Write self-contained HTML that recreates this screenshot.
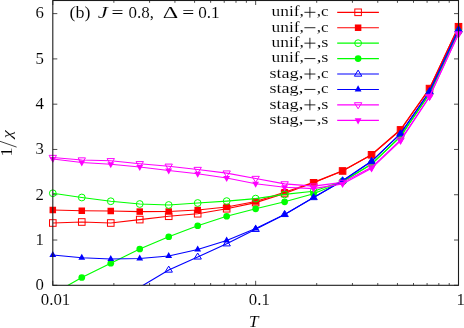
<!DOCTYPE html>
<html><head><meta charset="utf-8"><style>
html,body{margin:0;padding:0;background:#fff;}
body{width:464px;height:328px;overflow:hidden;position:relative;}
.t{font-family:"Liberation Serif",serif;font-size:16px;fill:#000;stroke:#fff;stroke-width:0.08px;}
.l{font-size:15px;}
.d{font-size:16.8px;}
text{filter:grayscale(1);}
</style></head><body>
<svg width="464" height="328" viewBox="0 0 464 328" style="position:absolute;left:0;top:0">
<rect width="464" height="328" fill="#fff"/>
<defs><clipPath id="c"><rect x="52.8" y="0.5" width="405.7" height="284.8"/></clipPath></defs>
<path d="M52.8 285.30h4.5M458.5 285.30h-4.5M52.8 240.02h4.5M458.5 240.02h-4.5M52.8 194.74h4.5M458.5 194.74h-4.5M52.8 149.46h4.5M458.5 149.46h-4.5M52.8 104.18h4.5M458.5 104.18h-4.5M52.8 58.90h4.5M458.5 58.90h-4.5M52.8 13.62h4.5M458.5 13.62h-4.5M52.80 285.3v-4.5M52.80 0.5v4.5M113.86 285.3v-2.3M113.86 0.5v2.3M149.58 285.3v-2.3M149.58 0.5v2.3M174.93 285.3v-2.3M174.93 0.5v2.3M194.59 285.3v-2.3M194.59 0.5v2.3M210.65 285.3v-2.3M210.65 0.5v2.3M224.23 285.3v-2.3M224.23 0.5v2.3M235.99 285.3v-2.3M235.99 0.5v2.3M246.37 285.3v-2.3M246.37 0.5v2.3M255.65 285.3v-4.5M255.65 0.5v4.5M316.71 285.3v-2.3M316.71 0.5v2.3M352.43 285.3v-2.3M352.43 0.5v2.3M377.78 285.3v-2.3M377.78 0.5v2.3M397.44 285.3v-2.3M397.44 0.5v2.3M413.50 285.3v-2.3M413.50 0.5v2.3M427.08 285.3v-2.3M427.08 0.5v2.3M438.84 285.3v-2.3M438.84 0.5v2.3M449.22 285.3v-2.3M449.22 0.5v2.3" stroke="#000" stroke-width="0.7" fill="none"/>
<polyline points="52.8,223 81.78,222 110.76,223 139.74,219.6 168.71,216.25 197.69,213.75 226.67,208.75 255.65,202.6 284.63,193.5 313.61,182.8 342.59,171 371.56,154.8 400.54,130 429.52,88.6 458.5,26.75" fill="none" stroke="#ff0000" stroke-width="1.15" clip-path="url(#c)"/>
<rect x="49.50" y="219.70" width="6.60" height="6.60" fill="none" stroke="#ff0000" stroke-width="1"/>
<rect x="78.48" y="218.70" width="6.60" height="6.60" fill="none" stroke="#ff0000" stroke-width="1"/>
<rect x="107.46" y="219.70" width="6.60" height="6.60" fill="none" stroke="#ff0000" stroke-width="1"/>
<rect x="136.44" y="216.30" width="6.60" height="6.60" fill="none" stroke="#ff0000" stroke-width="1"/>
<rect x="165.41" y="212.95" width="6.60" height="6.60" fill="none" stroke="#ff0000" stroke-width="1"/>
<rect x="194.39" y="210.45" width="6.60" height="6.60" fill="none" stroke="#ff0000" stroke-width="1"/>
<rect x="223.37" y="205.45" width="6.60" height="6.60" fill="none" stroke="#ff0000" stroke-width="1"/>
<rect x="252.35" y="199.30" width="6.60" height="6.60" fill="none" stroke="#ff0000" stroke-width="1"/>
<rect x="281.33" y="190.20" width="6.60" height="6.60" fill="none" stroke="#ff0000" stroke-width="1"/>
<rect x="310.31" y="179.50" width="6.60" height="6.60" fill="none" stroke="#ff0000" stroke-width="1"/>
<rect x="339.29" y="167.70" width="6.60" height="6.60" fill="none" stroke="#ff0000" stroke-width="1"/>
<rect x="368.26" y="151.50" width="6.60" height="6.60" fill="none" stroke="#ff0000" stroke-width="1"/>
<rect x="397.24" y="126.70" width="6.60" height="6.60" fill="none" stroke="#ff0000" stroke-width="1"/>
<rect x="426.22" y="85.30" width="6.60" height="6.60" fill="none" stroke="#ff0000" stroke-width="1"/>
<rect x="455.20" y="23.45" width="6.60" height="6.60" fill="none" stroke="#ff0000" stroke-width="1"/>
<path d="M337.2 12.30H378.9" stroke="#ff0000" stroke-width="1.15"/>
<rect x="354.80" y="9.00" width="6.60" height="6.60" fill="none" stroke="#ff0000" stroke-width="1"/>
<text x="271.5" y="16.10" textLength="32.4" lengthAdjust="spacingAndGlyphs" class="t l">unif,</text>
<path d="M304.4 12.30H315.4M309.9 6.95V17.65" stroke="#000" stroke-width="0.85" fill="none"/>
<text x="316.7" y="16.10" textLength="11.8" lengthAdjust="spacingAndGlyphs" class="t l">,c</text>
<polyline points="52.8,210 81.78,210.75 110.76,211 139.74,211.6 168.71,211.5 197.69,210 226.67,207 255.65,201.5 284.63,192.2 313.61,182.4 342.59,170.8 371.56,154.7 400.54,129.5 429.52,88.6 458.5,26.75" fill="none" stroke="#ff0000" stroke-width="1.15" clip-path="url(#c)"/>
<rect x="49.55" y="206.75" width="6.50" height="6.50" fill="#ff0000"/>
<rect x="78.53" y="207.50" width="6.50" height="6.50" fill="#ff0000"/>
<rect x="107.51" y="207.75" width="6.50" height="6.50" fill="#ff0000"/>
<rect x="136.49" y="208.35" width="6.50" height="6.50" fill="#ff0000"/>
<rect x="165.46" y="208.25" width="6.50" height="6.50" fill="#ff0000"/>
<rect x="194.44" y="206.75" width="6.50" height="6.50" fill="#ff0000"/>
<rect x="223.42" y="203.75" width="6.50" height="6.50" fill="#ff0000"/>
<rect x="252.40" y="198.25" width="6.50" height="6.50" fill="#ff0000"/>
<rect x="281.38" y="188.95" width="6.50" height="6.50" fill="#ff0000"/>
<rect x="310.36" y="179.15" width="6.50" height="6.50" fill="#ff0000"/>
<rect x="339.34" y="167.55" width="6.50" height="6.50" fill="#ff0000"/>
<rect x="368.31" y="151.45" width="6.50" height="6.50" fill="#ff0000"/>
<rect x="397.29" y="126.25" width="6.50" height="6.50" fill="#ff0000"/>
<rect x="426.27" y="85.35" width="6.50" height="6.50" fill="#ff0000"/>
<rect x="455.25" y="23.50" width="6.50" height="6.50" fill="#ff0000"/>
<path d="M337.2 27.73H378.9" stroke="#ff0000" stroke-width="1.15"/>
<rect x="354.85" y="24.48" width="6.50" height="6.50" fill="#ff0000"/>
<text x="271.5" y="31.53" textLength="32.4" lengthAdjust="spacingAndGlyphs" class="t l">unif,</text>
<path d="M304.4 27.73H315.4" stroke="#000" stroke-width="0.85" fill="none"/>
<text x="316.7" y="31.53" textLength="11.8" lengthAdjust="spacingAndGlyphs" class="t l">,c</text>
<polyline points="52.8,193.25 81.78,197.5 110.76,201.25 139.74,204 168.71,205 197.69,203 226.67,201.1 255.65,198.6 284.63,194.4 313.61,191.3 342.59,181.4 371.56,164 400.54,136.3 429.52,93.6 458.5,31.6" fill="none" stroke="#00ff00" stroke-width="1.15" clip-path="url(#c)"/>
<circle cx="52.80" cy="193.25" r="3.4" fill="none" stroke="#00ff00" stroke-width="1"/>
<circle cx="81.78" cy="197.50" r="3.4" fill="none" stroke="#00ff00" stroke-width="1"/>
<circle cx="110.76" cy="201.25" r="3.4" fill="none" stroke="#00ff00" stroke-width="1"/>
<circle cx="139.74" cy="204.00" r="3.4" fill="none" stroke="#00ff00" stroke-width="1"/>
<circle cx="168.71" cy="205.00" r="3.4" fill="none" stroke="#00ff00" stroke-width="1"/>
<circle cx="197.69" cy="203.00" r="3.4" fill="none" stroke="#00ff00" stroke-width="1"/>
<circle cx="226.67" cy="201.10" r="3.4" fill="none" stroke="#00ff00" stroke-width="1"/>
<circle cx="255.65" cy="198.60" r="3.4" fill="none" stroke="#00ff00" stroke-width="1"/>
<circle cx="284.63" cy="194.40" r="3.4" fill="none" stroke="#00ff00" stroke-width="1"/>
<circle cx="313.61" cy="191.30" r="3.4" fill="none" stroke="#00ff00" stroke-width="1"/>
<circle cx="342.59" cy="181.40" r="3.4" fill="none" stroke="#00ff00" stroke-width="1"/>
<circle cx="371.56" cy="164.00" r="3.4" fill="none" stroke="#00ff00" stroke-width="1"/>
<circle cx="400.54" cy="136.30" r="3.4" fill="none" stroke="#00ff00" stroke-width="1"/>
<circle cx="429.52" cy="93.60" r="3.4" fill="none" stroke="#00ff00" stroke-width="1"/>
<circle cx="458.50" cy="31.60" r="3.4" fill="none" stroke="#00ff00" stroke-width="1"/>
<path d="M337.2 43.16H378.9" stroke="#00ff00" stroke-width="1.15"/>
<circle cx="358.10" cy="43.16" r="3.4" fill="none" stroke="#00ff00" stroke-width="1"/>
<text x="271.5" y="46.96" textLength="32.4" lengthAdjust="spacingAndGlyphs" class="t l">unif,</text>
<path d="M304.4 43.16H315.4M309.9 37.81V48.51" stroke="#000" stroke-width="0.85" fill="none"/>
<text x="316.7" y="46.96" textLength="11.8" lengthAdjust="spacingAndGlyphs" class="t l">,s</text>
<polyline points="52.8,294 81.78,277.5 110.76,263.25 139.74,249 168.71,236.75 197.69,225.75 226.67,216.25 255.65,208.8 284.63,201.8 313.61,193.8 342.59,181.8 371.56,164.4 400.54,136.6 429.52,93.8 458.5,31.6" fill="none" stroke="#00ff00" stroke-width="1.15" clip-path="url(#c)"/>
<circle cx="81.78" cy="277.50" r="3.35" fill="#00ff00"/>
<circle cx="110.76" cy="263.25" r="3.35" fill="#00ff00"/>
<circle cx="139.74" cy="249.00" r="3.35" fill="#00ff00"/>
<circle cx="168.71" cy="236.75" r="3.35" fill="#00ff00"/>
<circle cx="197.69" cy="225.75" r="3.35" fill="#00ff00"/>
<circle cx="226.67" cy="216.25" r="3.35" fill="#00ff00"/>
<circle cx="255.65" cy="208.80" r="3.35" fill="#00ff00"/>
<circle cx="284.63" cy="201.80" r="3.35" fill="#00ff00"/>
<circle cx="313.61" cy="193.80" r="3.35" fill="#00ff00"/>
<circle cx="342.59" cy="181.80" r="3.35" fill="#00ff00"/>
<circle cx="371.56" cy="164.40" r="3.35" fill="#00ff00"/>
<circle cx="400.54" cy="136.60" r="3.35" fill="#00ff00"/>
<circle cx="429.52" cy="93.80" r="3.35" fill="#00ff00"/>
<circle cx="458.50" cy="31.60" r="3.35" fill="#00ff00"/>
<path d="M337.2 58.59H378.9" stroke="#00ff00" stroke-width="1.15"/>
<circle cx="358.10" cy="58.59" r="3.35" fill="#00ff00"/>
<text x="271.5" y="62.39" textLength="32.4" lengthAdjust="spacingAndGlyphs" class="t l">unif,</text>
<path d="M304.4 58.59H315.4" stroke="#000" stroke-width="0.85" fill="none"/>
<text x="316.7" y="62.39" textLength="11.8" lengthAdjust="spacingAndGlyphs" class="t l">,s</text>
<polyline points="52.8,355 81.78,330 110.76,308 139.74,287.3 168.71,270 197.69,256.9 226.67,243.75 255.65,229.3 284.63,214.4 313.61,197.5 342.59,180.7 371.56,161.3 400.54,133.7 429.52,91.5 458.5,29.7" fill="none" stroke="#0000ff" stroke-width="1.15" clip-path="url(#c)"/>
<path d="M168.71 266.10 L172.41 272.15 L165.01 272.15 Z" fill="none" stroke="#0000ff" stroke-width="1" stroke-linejoin="miter"/>
<path d="M197.69 253.00 L201.39 259.05 L193.99 259.05 Z" fill="none" stroke="#0000ff" stroke-width="1" stroke-linejoin="miter"/>
<path d="M226.67 239.85 L230.37 245.90 L222.97 245.90 Z" fill="none" stroke="#0000ff" stroke-width="1" stroke-linejoin="miter"/>
<path d="M255.65 225.40 L259.35 231.45 L251.95 231.45 Z" fill="none" stroke="#0000ff" stroke-width="1" stroke-linejoin="miter"/>
<path d="M284.63 210.50 L288.33 216.55 L280.93 216.55 Z" fill="none" stroke="#0000ff" stroke-width="1" stroke-linejoin="miter"/>
<path d="M313.61 193.60 L317.31 199.65 L309.91 199.65 Z" fill="none" stroke="#0000ff" stroke-width="1" stroke-linejoin="miter"/>
<path d="M342.59 176.80 L346.29 182.85 L338.89 182.85 Z" fill="none" stroke="#0000ff" stroke-width="1" stroke-linejoin="miter"/>
<path d="M371.56 157.40 L375.26 163.45 L367.86 163.45 Z" fill="none" stroke="#0000ff" stroke-width="1" stroke-linejoin="miter"/>
<path d="M400.54 129.80 L404.24 135.85 L396.84 135.85 Z" fill="none" stroke="#0000ff" stroke-width="1" stroke-linejoin="miter"/>
<path d="M429.52 87.60 L433.22 93.65 L425.82 93.65 Z" fill="none" stroke="#0000ff" stroke-width="1" stroke-linejoin="miter"/>
<path d="M458.50 25.80 L462.20 31.85 L454.80 31.85 Z" fill="none" stroke="#0000ff" stroke-width="1" stroke-linejoin="miter"/>
<path d="M337.2 74.02H378.9" stroke="#0000ff" stroke-width="1.15"/>
<path d="M358.10 70.12 L361.80 76.17 L354.40 76.17 Z" fill="none" stroke="#0000ff" stroke-width="1" stroke-linejoin="miter"/>
<text x="269.4" y="77.82" textLength="33.8" lengthAdjust="spacingAndGlyphs" class="t l">stag,</text>
<path d="M304.4 74.02H315.4M309.9 68.67V79.37" stroke="#000" stroke-width="0.85" fill="none"/>
<text x="316.7" y="77.82" textLength="11.8" lengthAdjust="spacingAndGlyphs" class="t l">,c</text>
<polyline points="52.8,255 81.78,257.75 110.76,259 139.74,258.5 168.71,256 197.69,249.5 226.67,240.5 255.65,228.5 284.63,214.4 313.61,197.5 342.59,180.7 371.56,161.3 400.54,133.7 429.52,91.5 458.5,29.7" fill="none" stroke="#0000ff" stroke-width="1.15" clip-path="url(#c)"/>
<path d="M52.80 250.90 L56.20 257.00 L49.40 257.00 Z" fill="#0000ff"/>
<path d="M81.78 253.65 L85.18 259.75 L78.38 259.75 Z" fill="#0000ff"/>
<path d="M110.76 254.90 L114.16 261.00 L107.36 261.00 Z" fill="#0000ff"/>
<path d="M139.74 254.40 L143.14 260.50 L136.34 260.50 Z" fill="#0000ff"/>
<path d="M168.71 251.90 L172.11 258.00 L165.31 258.00 Z" fill="#0000ff"/>
<path d="M197.69 245.40 L201.09 251.50 L194.29 251.50 Z" fill="#0000ff"/>
<path d="M226.67 236.40 L230.07 242.50 L223.27 242.50 Z" fill="#0000ff"/>
<path d="M255.65 224.40 L259.05 230.50 L252.25 230.50 Z" fill="#0000ff"/>
<path d="M284.63 210.30 L288.03 216.40 L281.23 216.40 Z" fill="#0000ff"/>
<path d="M313.61 193.40 L317.01 199.50 L310.21 199.50 Z" fill="#0000ff"/>
<path d="M342.59 176.60 L345.99 182.70 L339.19 182.70 Z" fill="#0000ff"/>
<path d="M371.56 157.20 L374.96 163.30 L368.16 163.30 Z" fill="#0000ff"/>
<path d="M400.54 129.60 L403.94 135.70 L397.14 135.70 Z" fill="#0000ff"/>
<path d="M429.52 87.40 L432.92 93.50 L426.12 93.50 Z" fill="#0000ff"/>
<path d="M458.50 25.60 L461.90 31.70 L455.10 31.70 Z" fill="#0000ff"/>
<path d="M337.2 89.45H378.9" stroke="#0000ff" stroke-width="1.15"/>
<path d="M358.10 85.35 L361.50 91.45 L354.70 91.45 Z" fill="#0000ff"/>
<text x="269.4" y="93.25" textLength="33.8" lengthAdjust="spacingAndGlyphs" class="t l">stag,</text>
<path d="M304.4 89.45H315.4" stroke="#000" stroke-width="0.85" fill="none"/>
<text x="316.7" y="93.25" textLength="11.8" lengthAdjust="spacingAndGlyphs" class="t l">,c</text>
<polyline points="52.8,157.5 81.78,160 110.76,160.75 139.74,163.75 168.71,166.25 197.69,169.5 226.67,173.1 255.65,178.5 284.63,183.9 313.61,186.1 342.59,182.4 371.56,167.3 400.54,140.0 429.52,96.5 458.5,34.0" fill="none" stroke="#ff00ff" stroke-width="1.15" clip-path="url(#c)"/>
<path d="M52.80 161.40 L56.50 155.35 L49.10 155.35 Z" fill="none" stroke="#ff00ff" stroke-width="1" stroke-linejoin="miter"/>
<path d="M81.78 163.90 L85.48 157.85 L78.08 157.85 Z" fill="none" stroke="#ff00ff" stroke-width="1" stroke-linejoin="miter"/>
<path d="M110.76 164.65 L114.46 158.60 L107.06 158.60 Z" fill="none" stroke="#ff00ff" stroke-width="1" stroke-linejoin="miter"/>
<path d="M139.74 167.65 L143.44 161.60 L136.04 161.60 Z" fill="none" stroke="#ff00ff" stroke-width="1" stroke-linejoin="miter"/>
<path d="M168.71 170.15 L172.41 164.10 L165.01 164.10 Z" fill="none" stroke="#ff00ff" stroke-width="1" stroke-linejoin="miter"/>
<path d="M197.69 173.40 L201.39 167.35 L193.99 167.35 Z" fill="none" stroke="#ff00ff" stroke-width="1" stroke-linejoin="miter"/>
<path d="M226.67 177.00 L230.37 170.95 L222.97 170.95 Z" fill="none" stroke="#ff00ff" stroke-width="1" stroke-linejoin="miter"/>
<path d="M255.65 182.40 L259.35 176.35 L251.95 176.35 Z" fill="none" stroke="#ff00ff" stroke-width="1" stroke-linejoin="miter"/>
<path d="M284.63 187.80 L288.33 181.75 L280.93 181.75 Z" fill="none" stroke="#ff00ff" stroke-width="1" stroke-linejoin="miter"/>
<path d="M313.61 190.00 L317.31 183.95 L309.91 183.95 Z" fill="none" stroke="#ff00ff" stroke-width="1" stroke-linejoin="miter"/>
<path d="M342.59 186.30 L346.29 180.25 L338.89 180.25 Z" fill="none" stroke="#ff00ff" stroke-width="1" stroke-linejoin="miter"/>
<path d="M371.56 171.20 L375.26 165.15 L367.86 165.15 Z" fill="none" stroke="#ff00ff" stroke-width="1" stroke-linejoin="miter"/>
<path d="M400.54 143.90 L404.24 137.85 L396.84 137.85 Z" fill="none" stroke="#ff00ff" stroke-width="1" stroke-linejoin="miter"/>
<path d="M429.52 100.40 L433.22 94.35 L425.82 94.35 Z" fill="none" stroke="#ff00ff" stroke-width="1" stroke-linejoin="miter"/>
<path d="M458.50 37.90 L462.20 31.85 L454.80 31.85 Z" fill="none" stroke="#ff00ff" stroke-width="1" stroke-linejoin="miter"/>
<path d="M337.2 104.88H378.9" stroke="#ff00ff" stroke-width="1.15"/>
<path d="M358.10 108.78 L361.80 102.73 L354.40 102.73 Z" fill="none" stroke="#ff00ff" stroke-width="1" stroke-linejoin="miter"/>
<text x="269.4" y="108.68" textLength="33.8" lengthAdjust="spacingAndGlyphs" class="t l">stag,</text>
<path d="M304.4 104.88H315.4M309.9 99.53V110.23" stroke="#000" stroke-width="0.85" fill="none"/>
<text x="316.7" y="108.68" textLength="11.8" lengthAdjust="spacingAndGlyphs" class="t l">,s</text>
<polyline points="52.8,159 81.78,162.5 110.76,164.25 139.74,167 168.71,170.5 197.69,173.75 226.67,178 255.65,183.75 284.63,187.3 313.61,188.6 342.59,183.9 371.56,168.3 400.54,140.8 429.52,96.9 458.5,33.7" fill="none" stroke="#ff00ff" stroke-width="1.15" clip-path="url(#c)"/>
<path d="M52.80 163.10 L56.20 157.00 L49.40 157.00 Z" fill="#ff00ff"/>
<path d="M81.78 166.60 L85.18 160.50 L78.38 160.50 Z" fill="#ff00ff"/>
<path d="M110.76 168.35 L114.16 162.25 L107.36 162.25 Z" fill="#ff00ff"/>
<path d="M139.74 171.10 L143.14 165.00 L136.34 165.00 Z" fill="#ff00ff"/>
<path d="M168.71 174.60 L172.11 168.50 L165.31 168.50 Z" fill="#ff00ff"/>
<path d="M197.69 177.85 L201.09 171.75 L194.29 171.75 Z" fill="#ff00ff"/>
<path d="M226.67 182.10 L230.07 176.00 L223.27 176.00 Z" fill="#ff00ff"/>
<path d="M255.65 187.85 L259.05 181.75 L252.25 181.75 Z" fill="#ff00ff"/>
<path d="M284.63 191.40 L288.03 185.30 L281.23 185.30 Z" fill="#ff00ff"/>
<path d="M313.61 192.70 L317.01 186.60 L310.21 186.60 Z" fill="#ff00ff"/>
<path d="M342.59 188.00 L345.99 181.90 L339.19 181.90 Z" fill="#ff00ff"/>
<path d="M371.56 172.40 L374.96 166.30 L368.16 166.30 Z" fill="#ff00ff"/>
<path d="M400.54 144.90 L403.94 138.80 L397.14 138.80 Z" fill="#ff00ff"/>
<path d="M429.52 101.00 L432.92 94.90 L426.12 94.90 Z" fill="#ff00ff"/>
<path d="M458.50 37.80 L461.90 31.70 L455.10 31.70 Z" fill="#ff00ff"/>
<path d="M337.2 120.31H378.9" stroke="#ff00ff" stroke-width="1.15"/>
<path d="M358.10 124.41 L361.50 118.31 L354.70 118.31 Z" fill="#ff00ff"/>
<text x="269.4" y="124.11" textLength="33.8" lengthAdjust="spacingAndGlyphs" class="t l">stag,</text>
<path d="M304.4 120.31H315.4" stroke="#000" stroke-width="0.85" fill="none"/>
<text x="316.7" y="124.11" textLength="11.8" lengthAdjust="spacingAndGlyphs" class="t l">,s</text>
<rect x="52.8" y="0.5" width="405.7" height="284.8" fill="none" stroke="#1c1c1c" stroke-width="1.1"/>
<text x="44" y="290.10" text-anchor="end" class="t d">0</text>
<text x="44" y="244.82" text-anchor="end" class="t d">1</text>
<text x="44" y="199.54" text-anchor="end" class="t d">2</text>
<text x="44" y="154.26" text-anchor="end" class="t d">3</text>
<text x="44" y="108.98" text-anchor="end" class="t d">4</text>
<text x="44" y="63.70" text-anchor="end" class="t d">5</text>
<text x="44" y="18.42" text-anchor="end" class="t d">6</text>
<text x="40.8" y="305.4" textLength="29.5" lengthAdjust="spacingAndGlyphs" class="t d">0.01</text>
<text x="248.8" y="305.4" textLength="21" lengthAdjust="spacingAndGlyphs" class="t d">0.1</text>
<text x="460.8" y="305.4" text-anchor="middle" class="t d">1</text>
<text x="248.8" y="327.3" class="t" style="font-size:17.5px" font-style="italic">T</text>
<text x="69.5" y="18.3" class="t d" textLength="21" lengthAdjust="spacingAndGlyphs">(b)</text>
<text x="97.8" y="18.3" class="t d" textLength="10.0" lengthAdjust="spacingAndGlyphs" font-style="italic">J</text>
<text x="111.6" y="18.3" class="t d" textLength="12" lengthAdjust="spacingAndGlyphs" style="stroke:none">=</text>
<text x="128.5" y="18.3" class="t d" textLength="25.5" lengthAdjust="spacingAndGlyphs">0.8,</text>
<text x="162.7" y="18.3" class="t d" textLength="15.5" lengthAdjust="spacingAndGlyphs">Δ</text>
<text x="182.2" y="18.3" class="t d" textLength="12" lengthAdjust="spacingAndGlyphs" style="stroke:none">=</text>
<text x="198.2" y="18.3" class="t d" textLength="21.5" lengthAdjust="spacingAndGlyphs">0.1</text>
<g transform="translate(12.6,155.5) rotate(-90)"><text x="-1.3" y="-0.8" textLength="9.4" lengthAdjust="spacingAndGlyphs" class="t">1</text><path d="M8.4 4L14.2 -12.6" stroke="#000" stroke-width="0.75"/><text transform="translate(17.2,-0.6) scale(1.13,0.95)" x="0" y="0" class="t" font-style="italic">χ</text></g>
</svg>
</body></html>
